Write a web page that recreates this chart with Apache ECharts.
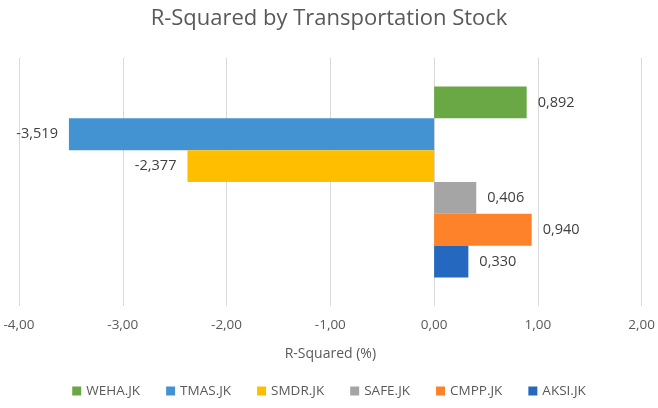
<!DOCTYPE html>
<html>
<head>
<meta charset="utf-8">
<script src="https://cdn.jsdelivr.net/npm/echarts@6/dist/echarts.min.js"></script>
<style>
  html, body { margin: 0; padding: 0; background: #fff; }
  #chart { width: 658px; height: 408px; }
</style>
</head>
<body>
<div id="chart"></div>
<script>
// data
const categories = ['R-Squared'];
const stocks = ['WEHA.JK', 'TMAS.JK', 'SMDR.JK', 'SAFE.JK', 'CMPP.JK', 'AKSI.JK'];
const rSquared = [0.892, -3.519, -2.377, 0.406, 0.940, 0.330];
const colors = ['#6aa745', '#4393d3', '#ffbf00', '#a5a5a5', '#fd8229', '#2468c0'];

const fmt = (v, d) => v.toFixed(d).replace('.', ',');
const font = 'Open Sans';

const series = stocks.map((name, i) => ({
  name: name,
  type: 'bar',
  data: [rSquared[i]],
  barGap: 0,
  barCategoryGap: '23%',
  itemStyle: { color: colors[i] },
  label: {
    show: true,
    position: rSquared[i] < 0 ? 'left' : 'right',
    distance: 11,
    color: '#404040',
    fontFamily: font,
    fontSize: 14.5,
    formatter: p => fmt(p.value, 3)
  }
}));

const chart = echarts.init(document.getElementById('chart'));
chart.setOption({
  animation: false,
  title: {
    text: 'R-Squared by Transportation Stock',
    left: 'center',
    top: 3,
    textStyle: { color: '#595959', fontFamily: font, fontSize: 22, fontWeight: 'normal' }
  },
  legend: {
    bottom: 5,
    left: 'center',
    icon: 'rect',
    itemWidth: 9,
    itemHeight: 9,
    itemGap: 26,
    itemStyle: { borderWidth: 0 },
    textStyle: { color: '#595959', fontFamily: font, fontSize: 13.5 }
  },
  grid: { left: 19, right: 16, top: 58, bottom: 102 },
  xAxis: {
    type: 'value',
    min: -4,
    max: 2,
    interval: 1,
    name: 'R-Squared (%)',
    nameLocation: 'middle',
    nameGap: 41,
    nameTextStyle: { color: '#595959', fontFamily: font, fontSize: 14 },
    axisLine: { show: false },
    axisTick: { show: false },
    axisLabel: { color: '#595959', fontFamily: font, fontSize: 13.5, margin: 12, formatter: v => fmt(v, 2) },
    splitLine: { lineStyle: { color: '#d9d9d9', width: 1 } }
  },
  yAxis: {
    type: 'category',
    data: categories,
    show: false
  },
  series: series
});
</script>
</body>
</html>
